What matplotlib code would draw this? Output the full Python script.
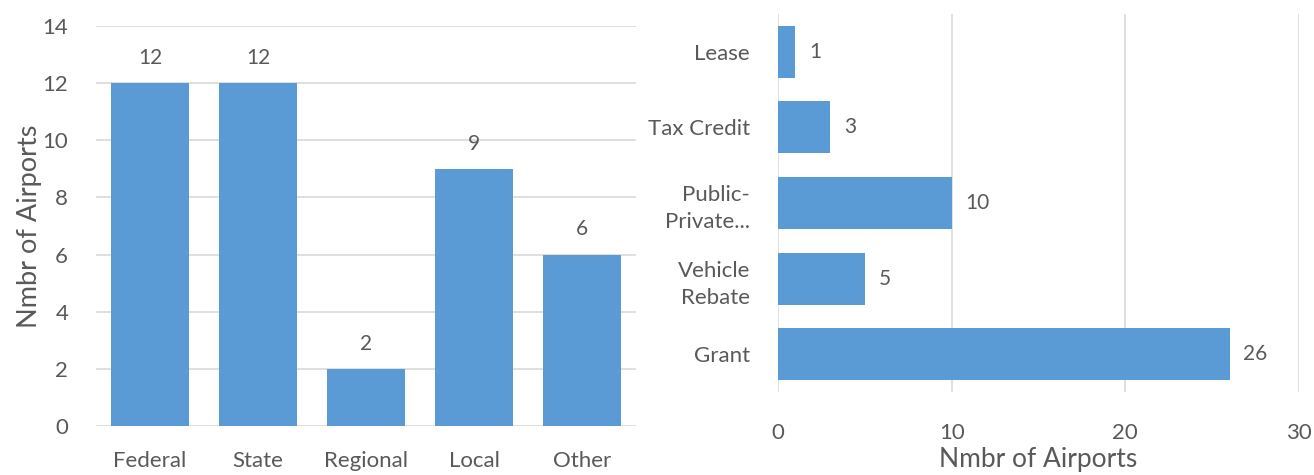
import matplotlib.pyplot as plt

# Funding sources and incentive types by number of airports
sources = ['Federal', 'State', 'Regional', 'Local', 'Other']
source_counts = [12, 12, 2, 9, 6]

incentives = ['Grant', 'Vehicle\nRebate', 'Public-\nPrivate...', 'Tax Credit', 'Lease']
incentive_counts = [26, 5, 10, 3, 1]

bar_color = '#5B9BD5'
text_color = '#595959'
grid_color = '#D9D9D9'

plt.rcParams['font.family'] = ['Lato', 'DejaVu Sans']

fig = plt.figure(figsize=(13.14, 4.75), dpi=100)

# Left: vertical bars
ax1 = fig.add_axes([0.073, 0.1032, 0.411, 0.842])
x = range(len(sources))
bars = ax1.bar(x, source_counts, width=0.72, color=bar_color, zorder=3)
ax1.set_xlim(-0.5, 4.5)
ax1.set_ylim(0, 14)
ax1.set_yticks(range(0, 15, 2))
ax1.set_xticks(list(x))
ax1.set_xticklabels(sources)
ax1.yaxis.grid(True, color=grid_color, linewidth=1.2, zorder=0)
for s in ax1.spines.values():
    s.set_visible(False)
ax1.tick_params(axis='both', length=0, labelsize=16, colors=text_color)
ax1.tick_params(axis='x', pad=18)
ax1.tick_params(axis='y', pad=20)
ax1.set_ylabel('Nmbr of Airports', fontsize=19.5, color=text_color)
ax1.yaxis.set_label_coords(-0.1, 0.5)
for b, v in zip(bars, source_counts):
    ax1.annotate(str(v), (b.get_x() + b.get_width() / 2, v), xytext=(0, 11),
                 textcoords='offset points', ha='center', va='bottom',
                 fontsize=15, color=text_color)

# Right: horizontal bars
ax2 = fig.add_axes([0.592, 0.1747, 0.3966, 0.7958])
y = range(len(incentives))
hbars = ax2.barh(y, incentive_counts, height=0.69, color=bar_color, zorder=3)
ax2.set_xlim(0, 30)
ax2.set_ylim(-0.5, 4.5)
ax2.set_xticks([0, 10, 20, 30])
ax2.set_yticks(list(y))
ax2.set_yticklabels(incentives, linespacing=1.45)
ax2.xaxis.grid(True, color=grid_color, linewidth=1.2, zorder=0)
for s in ax2.spines.values():
    s.set_visible(False)
ax2.tick_params(axis='both', length=0, labelsize=16, colors=text_color)
ax2.tick_params(axis='x', pad=22)
ax2.tick_params(axis='y', pad=20)
ax2.set_xlabel('Nmbr of Airports', fontsize=19, color=text_color, va='top')
ax2.xaxis.set_label_coords(0.5, -0.145)
for b, v in zip(hbars, incentive_counts):
    ax2.annotate(str(v), (v, b.get_y() + b.get_height() / 2), xytext=(10, 0),
                 textcoords='offset points', ha='left', va='center',
                 fontsize=15, color=text_color)

fig.savefig('out.png', dpi=100)
